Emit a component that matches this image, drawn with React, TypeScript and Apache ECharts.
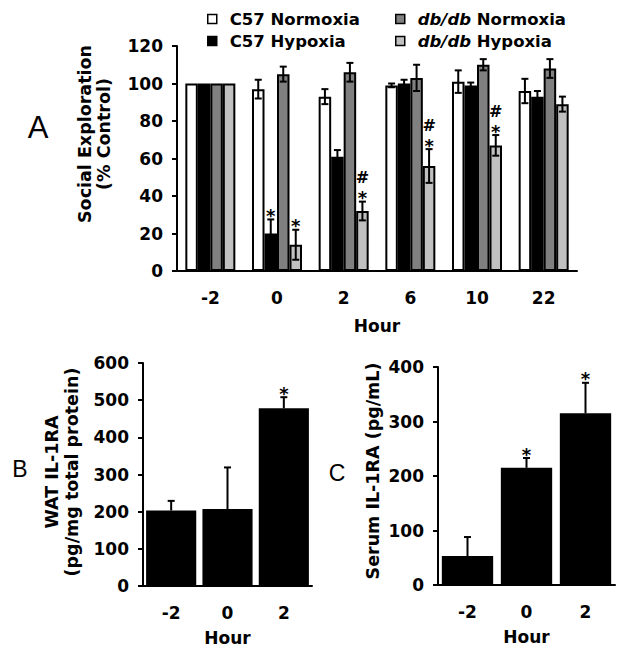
import React, { useEffect, useRef } from "react";
import * as echarts from "echarts";

// ---------- Data ----------
const hours = ["-2", "0", "2", "6", "10", "22"];
const c57Norm = [100, 97, 93, 99, 101, 96];
const c57NormErr = [0, 5, 4, 1, 6, 6.5];
const c57Hyp = [100, 20, 61, 100, 99, 93];
const c57HypErr = [0, 7.5, 3.5, 2, 1.5, 3];
const dbNorm = [100, 105, 106, 103, 110, 108];
const dbNormErr = [0, 4, 5, 7, 3, 5];
const dbHyp = [100, 14, 32, 56, 67, 89];
const dbHypErr = [0, 8, 5, 9, 5.5, 4];
// significance marks, listed bottom-up
const c57NormMarks: string[][] = [[], [], [], [], [], []];
const c57HypMarks: string[][] = [[], ["*"], [], [], [], []];
const dbNormMarks: string[][] = [[], [], [], [], [], []];
const dbHypMarks: string[][] = [[], ["*"], ["*", "#"], ["*", "#"], ["*", "#"], []];

const bHours = ["-2", "0", "2"];
const watIl1ra = [203, 207, 478];
const watErr = [26, 112, 30];
const watMarks: string[][] = [[], [], ["*"]];

const cHours = ["-2", "0", "2"];
const serumIl1ra = [53, 215, 315];
const serumErr = [35, 18, 56];
const serumMarks: string[][] = [[], ["*"], ["*"]];

const seriesNames = ["C57 Normoxia", "C57 Hypoxia", "db/db Normoxia", "db/db Hypoxia"];
const seriesColors = ["#ffffff", "#000000", "#808080", "#c0c0c0"];

const FONT = '"DejaVu Sans", Verdana, sans-serif';

function errRenderer(
  k: number,
  n: number,
  gapFrac: number,
  twoSided: boolean,
  marks: string[][],
  capHalf: number
) {
  return (params: any, api: any) => {
    const idx = api.value(0);
    const v = api.value(1);
    const e = api.value(2);
    const mk = marks[params.dataIndex] || [];
    const band = api.size([1, 0])[0];
    const bw = (band * (1 - gapFrac)) / n;
    const cx = api.coord([idx, v])[0] + (k - (n - 1) / 2) * bw;
    const yTop = api.coord([idx, v + e])[1];
    const yBot = api.coord([idx, twoSided ? v - e : v])[1];
    const children: any[] = [];
    const ls = { stroke: "#000", lineWidth: 2 };
    if (e > 0) {
      children.push({ type: "line", shape: { x1: cx, y1: yTop, x2: cx, y2: yBot }, style: ls });
      children.push({ type: "line", shape: { x1: cx - capHalf, y1: yTop, x2: cx + capHalf, y2: yTop }, style: ls });
      if (twoSided) {
        children.push({ type: "line", shape: { x1: cx - capHalf, y1: yBot, x2: cx + capHalf, y2: yBot }, style: ls });
      }
    }
    mk.forEach((m, j) => {
      const isStar = m === "*";
      children.push({
        type: "text",
        x: cx,
        y: yTop + (isStar ? 5 : 1) - j * 17,
        style: {
          text: m,
          align: "center",
          verticalAlign: "bottom",
          fontSize: isStar ? 18 : 16,
          fontWeight: "bold",
          fontFamily: FONT,
          fill: "#000",
        },
      });
    });
    return { type: "group", children };
  };
}

function axisX(gridIndex: number, data: string[], nameGap: number) {
  return {
    type: "category",
    gridIndex,
    data,
    name: "Hour",
    nameLocation: "middle",
    nameGap,
    nameTextStyle: { color: "#000", fontWeight: "bold", fontSize: 17, fontFamily: FONT },
    axisLine: { lineStyle: { color: "#000", width: 2 } },
    axisTick: { length: 5, lineStyle: { color: "#000", width: 2 } },
    axisLabel: { color: "#000", fontWeight: "bold", fontSize: 17, fontFamily: FONT, margin: 18 },
  };
}

function axisY(gridIndex: number, max: number, interval: number) {
  return {
    type: "value",
    gridIndex,
    min: 0,
    max,
    interval,
    axisLine: { show: true, lineStyle: { color: "#000", width: 2 } },
    axisTick: { show: true, length: 5, lineStyle: { color: "#000", width: 2 } },
    splitLine: { show: false },
    axisLabel: { color: "#000", fontWeight: "bold", fontSize: 17, fontFamily: FONT, margin: 14 },
  };
}

export default function App() {
  const ref = useRef<HTMLDivElement>(null);
  useEffect(() => {
    if (!ref.current) return;
    const chart = echarts.init(ref.current, undefined, { renderer: "svg" });
    const aVals = [c57Norm, c57Hyp, dbNorm, dbHyp];
    const aErrs = [c57NormErr, c57HypErr, dbNormErr, dbHypErr];
    const aMarks = [c57NormMarks, c57HypMarks, dbNormMarks, dbHypMarks];
    const gapA = 0.25;

    const series: any[] = [];
    aVals.forEach((vals, k) => {
      series.push({
        type: "bar",
        name: seriesNames[k],
        xAxisIndex: 0,
        yAxisIndex: 0,
        data: vals,
        barGap: "0%",
        barCategoryGap: "25%",
        itemStyle: { color: seriesColors[k], borderColor: "#000", borderWidth: 2 },
      });
    });
    aVals.forEach((vals, k) => {
      series.push({
        type: "custom",
        name: "err" + k,
        xAxisIndex: 0,
        yAxisIndex: 0,
        z: 5,
        encode: { x: 0, y: 1 },
        data: vals.map((v, i) => [i, v, aErrs[k][i]]),
        renderItem: errRenderer(k, 4, gapA, true, aMarks[k], 3.5),
      });
    });
    series.push({
      type: "bar",
      name: "WAT",
      xAxisIndex: 1,
      yAxisIndex: 1,
      data: watIl1ra,
      barCategoryGap: "11%",
      itemStyle: { color: "#000" },
    });
    series.push({
      type: "custom",
      name: "watErr",
      xAxisIndex: 1,
      yAxisIndex: 1,
      z: 5,
      encode: { x: 0, y: 1 },
      data: watIl1ra.map((v, i) => [i, v, watErr[i]]),
      renderItem: errRenderer(0, 1, 0.11, false, watMarks, 3.5),
    });
    series.push({
      type: "bar",
      name: "Serum",
      xAxisIndex: 2,
      yAxisIndex: 2,
      data: serumIl1ra,
      barCategoryGap: "13%",
      itemStyle: { color: "#000" },
    });
    series.push({
      type: "custom",
      name: "serumErr",
      xAxisIndex: 2,
      yAxisIndex: 2,
      z: 5,
      encode: { x: 0, y: 1 },
      data: serumIl1ra.map((v, i) => [i, v, serumErr[i]]),
      renderItem: errRenderer(0, 1, 0.13, false, serumMarks, 3.5),
    });

    const legendCommon = {
      orient: "vertical",
      padding: 0,
      itemWidth: 9,
      itemHeight: 9,
      itemGap: 2,
      icon: "rect",
      itemStyle: { borderColor: "#000", borderWidth: 1.5 },
      formatter: (name: string) =>
        name.startsWith("db/db") ? "{i|db/db}" + name.slice(5) : name,
      textStyle: {
        color: "#000",
        fontWeight: "bold",
        fontSize: 16.5,
        fontFamily: FONT,
        lineHeight: 20,
        padding: [0, 0, 0, 8],
        rich: {
          i: {
            color: "#000",
            fontStyle: "italic",
            fontWeight: "bold",
            fontSize: 16.5,
            fontFamily: FONT,
            lineHeight: 20,
          },
        },
      },
    };

    chart.setOption({
      animation: false,
      backgroundColor: "#fff",
      legend: [
        { ...legendCommon, left: 207, top: 9, data: ["C57 Normoxia", "C57 Hypoxia"] },
        { ...legendCommon, left: 395, top: 9, data: ["db/db Normoxia", "db/db Hypoxia"] },
      ],
      grid: [
        { left: 177, top: 46, width: 400, height: 225 },
        { left: 143, top: 363, width: 169, height: 223 },
        { left: 438, top: 367, width: 177, height: 218 },
      ],
      xAxis: [axisX(0, hours, 46), axisX(1, bHours, 43), axisX(2, cHours, 43)],
      yAxis: [axisY(0, 120, 20), axisY(1, 600, 100), axisY(2, 400, 100)],
      series,
      graphic: [
        {
          type: "text",
          x: 38,
          y: 127,
          style: { text: "A", fontSize: 31, fontFamily: '"Liberation Sans", Arial, sans-serif', fill: "#000", align: "center", verticalAlign: "middle" },
        },
        {
          type: "text",
          x: 20,
          y: 469,
          style: { text: "B", fontSize: 23, fontFamily: '"Liberation Sans", Arial, sans-serif', fill: "#000", align: "center", verticalAlign: "middle" },
        },
        {
          type: "text",
          x: 337,
          y: 473,
          style: { text: "C", fontSize: 23, fontFamily: '"Liberation Sans", Arial, sans-serif', fill: "#000", align: "center", verticalAlign: "middle" },
        },
        {
          type: "text",
          x: 94,
          y: 134,
          rotation: Math.PI / 2,
          style: { text: "Social Exploration\n(% Control)", fontSize: 17.5, fontWeight: "bold", fontFamily: FONT, lineHeight: 19, fill: "#000", align: "center", verticalAlign: "middle" },
        },
        {
          type: "text",
          x: 62,
          y: 472,
          rotation: Math.PI / 2,
          style: { text: "WAT IL-1RA\n(pg/mg total protein)", fontSize: 17.5, fontWeight: "bold", fontFamily: FONT, lineHeight: 20, fill: "#000", align: "center", verticalAlign: "middle" },
        },
        {
          type: "text",
          x: 373,
          y: 471,
          rotation: Math.PI / 2,
          style: { text: "Serum IL-1RA (pg/mL)", fontSize: 17.5, fontWeight: "bold", fontFamily: FONT, fill: "#000", align: "center", verticalAlign: "middle" },
        },
      ],
    });
    return () => chart.dispose();
  }, []);
  return (
    <div
      ref={ref}
      style={{ position: "fixed", left: 0, top: 0, width: 626, height: 651, background: "#fff" }}
    />
  );
}
